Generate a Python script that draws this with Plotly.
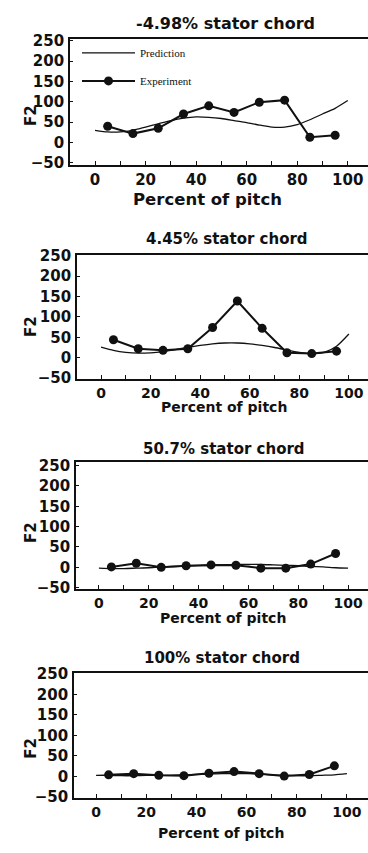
import plotly.graph_objects as go

W, H = 368, 853

# ---------------- data ----------------
exp_x = [5, 15, 25, 35, 45, 55, 65, 75, 85, 95]
pred_x = [0, 5, 10, 15, 20, 25, 30, 35, 40, 45, 50, 55, 60, 65, 70, 75, 80, 85, 90, 95, 100]

titles = ["-4.98% stator chord", "4.45% stator chord", "50.7% stator chord", "100% stator chord"]

exp_1 = [40, 22, 35, 70, 90, 74, 99, 104, 13, 18]
pred_1 = [30, 26, 26, 30, 38, 46, 54, 60, 63, 62, 59, 54, 49, 43, 38, 38, 44, 56, 70, 84, 103]

exp_2 = [44, 22, 18, 22, 74, 139, 72, 12, 10, 16]
pred_2 = [26, 18, 13, 11, 12, 15, 20, 25, 30, 34, 36, 36, 34, 30, 25, 19, 13, 10, 13, 28, 58]

exp_3 = [1, 10, 0, 4, 6, 5, -2, -2, 8, 34]
pred_3 = [-2, -3, -3, -2, -1, 1, 2, 3, 4, 5, 6, 7, 7, 7, 6, 5, 4, 2, 1, -1, -2]

exp_4 = [4, 7, 3, 2, 8, 12, 7, 1, 5, 26]
pred_4 = [3, 3, 2, 2, 3, 3, 3, 4, 5, 6, 7, 7, 7, 6, 4, 3, 2, 2, 3, 4, 7]

x_ticks = [0, 20, 40, 60, 80, 100]
y_ticks = [-50, 0, 50, 100, 150, 200, 250]
x_label = "Percent of pitch"
y_label = "F2"

exps = [exp_1, exp_2, exp_3, exp_4]
preds = [pred_1, pred_2, pred_3, pred_4]

# ---------------- layout geometry (pixels) ----------------
frames = [  # (left px, top px, bottom px)
    (70, 32, 160),
    (77, 252, 378),
    (76, 463, 592),
    (74, 678, 805),
]
xranges = [[-9.9, 108], [-9.7, 107.7], [-9.2, 108], [-8.8, 108.4]]
yranges = [[-55, 253], [-52, 251], [-53, 258], [-52, 251]]
title_pos = [(225, 16, 16), (227, 235, 15), (224, 449, 15), (222, 662, 15)]
xt_pos = [(207, 195, 16.5), (224, 407, 14), (223, 622, 14), (221, 841, 14)]
xtick_size = [15, 14, 14, 14]
f2_pos = [(31, 110), (31, 325), (31, 535), (31, 755)]

INK = "#111111"
FONT = "DejaVu Sans"

fig = go.Figure()

for i in range(4):
    sfx = "" if i == 0 else str(i + 1)
    xa, ya = "x" + sfx, "y" + sfx
    fig.add_trace(go.Scatter(
        x=pred_x, y=preds[i], mode="lines", name="Prediction",
        line=dict(color=INK, width=1.3, shape="spline", smoothing=0.6),
        xaxis=xa, yaxis=ya, showlegend=(i == 0), legendgroup="p",
    ))
    fig.add_trace(go.Scatter(
        x=exp_x, y=exps[i], mode="lines+markers", name="Experiment",
        line=dict(color=INK, width=2),
        marker=dict(color=INK, size=9, symbol="circle"),
        xaxis=xa, yaxis=ya, showlegend=(i == 0), legendgroup="e",
    ))

layout = dict(
    width=W, height=H,
    margin=dict(l=0, r=0, t=0, b=0),
    paper_bgcolor="white", plot_bgcolor="white",
    showlegend=True,
    legend=dict(
        x=77 / W, y=1 - 31 / H, xanchor="left", yanchor="top",
        bgcolor="rgba(0,0,0,0)",
        font=dict(family="Liberation Serif", size=11, color=INK),
        tracegroupgap=9, itemwidth=53,
    ),
    annotations=[],
)

for i in range(4):
    sfx = "" if i == 0 else str(i + 1)
    l, t, b = frames[i]
    layout["xaxis" + sfx] = dict(
        domain=[l / W, 1.0], anchor="y" + sfx, range=xranges[i],
        tickvals=x_ticks, ticks="inside", ticklen=4, tickwidth=1.3, tickcolor=INK,
        minor=dict(dtick=10, tick0=0, ticks="inside", ticklen=4, tickwidth=1.3, tickcolor=INK),
        showline=True, linecolor=INK, linewidth=1.8, mirror=True,
        showgrid=False, zeroline=False,
        tickfont=dict(family=FONT, size=xtick_size[i], color=INK, weight="bold"),
        ticklabelstandoff=0,
    )
    layout["yaxis" + sfx] = dict(
        domain=[1 - b / H, 1 - t / H], anchor="x" + sfx, range=yranges[i],
        tickvals=y_ticks, ticks="inside", ticklen=3, tickwidth=1, tickcolor=INK,
        showline=True, linecolor=INK, linewidth=1.8,
        showgrid=False, zeroline=False,
        tickfont=dict(family=FONT, size=15, color=INK, weight="bold"),
        ticklabelstandoff=1,
    )
    tx, ty, ts = title_pos[i]
    layout["annotations"].append(dict(
        text=titles[i], x=tx / W, y=1 - ty / H, xref="paper", yref="paper",
        xanchor="center", yanchor="middle", showarrow=False,
        font=dict(family=FONT, size=ts, color=INK, weight="bold"),
    ))
    ax_, ay_, as_ = xt_pos[i]
    layout["annotations"].append(dict(
        text=x_label, x=ax_ / W, y=1 - ay_ / H, xref="paper", yref="paper",
        xanchor="center", yanchor="middle", showarrow=False,
        font=dict(family=FONT, size=as_, color=INK, weight="bold"),
    ))
    fx, fy = f2_pos[i]
    layout["annotations"].append(dict(
        text=y_label, x=fx / W, y=1 - fy / H, xref="paper", yref="paper",
        xanchor="center", yanchor="middle", showarrow=False, textangle=-90,
        font=dict(family=FONT, size=15, color=INK, weight="bold"),
    ))

fig.update_layout(**layout)
fig.write_html(
    "out.html",
    config={"displayModeBar": False},
    post_script="document.body.style.margin='0';document.body.style.overflow='hidden';",
)
